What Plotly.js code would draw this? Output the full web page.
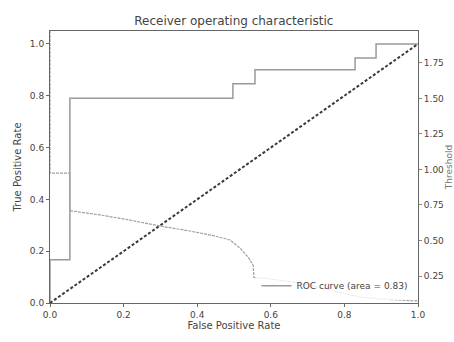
<!DOCTYPE html>
<html><head><meta charset="utf-8">
<script src="https://cdn.plot.ly/plotly-3.0.1.min.js"></script>
<style>body{margin:0;background:#fff}#c{width:454px;height:342px}</style>
</head><body><div id="c"></div>
<script>
// ROC curve (step points)
const rocFpr = [0, 0, 0.054, 0.054, 0.497, 0.497, 0.557, 0.557, 0.829, 0.829, 0.886, 0.886, 1.0];
const rocTpr = [0, 0.167, 0.167, 0.79, 0.79, 0.846, 0.846, 0.90, 0.90, 0.946, 0.946, 1.0, 1.0];
// Thresholds vs FPR (right axis)
const thrFpr = [0, 0, 0.054, 0.054, 0.06, 0.136, 0.217, 0.299, 0.38, 0.448, 0.489, 0.516, 0.538, 0.552, 0.554, 0.598, 0.679, 0.761, 0.842, 0.897, 1.0];
const thrVal = [1.975, 0.975, 0.975, 0.708, 0.708, 0.68, 0.644, 0.602, 0.567, 0.532, 0.504, 0.447, 0.384, 0.327, 0.24, 0.229, 0.201, 0.15, 0.102, 0.088, 0.074];
const diagX = [0, 1];
const diagY = [0, 1];
const legendLabel = 'ROC curve (area = 0.83)';

const font = {family: 'DejaVu Sans', size: 9, color: '#444'};
const traces = [
  {x: rocFpr, y: rocTpr, mode: 'lines', name: legendLabel, line: {color: '#9a9a9a', width: 1.5}, yaxis: 'y'},
  {x: diagX, y: diagY, mode: 'lines', showlegend: false, line: {color: '#3a3a3a', width: 2, dash: '3px,2px'}, yaxis: 'y'},
  {x: thrFpr, y: thrVal, mode: 'lines', showlegend: false, line: {color: '#a0a0a0', width: 1.2, dash: '3px,1px'}, yaxis: 'y2'}
];
const layout = {
  width: 454, height: 342,
  margin: {l: 50, r: 36, t: 31, b: 39},
  paper_bgcolor: '#fff', plot_bgcolor: '#fff',
  font: font,
  title: {text: 'Receiver operating characteristic', font: {family: 'DejaVu Sans', size: 12, color: '#444'}, x: 0.515, xanchor: 'center', y: 0.94, yanchor: 'middle'},
  xaxis: {range: [0, 1], dtick: 0.2, tickformat: '.1f', showgrid: false, zeroline: false,
    showline: true, linecolor: '#666', linewidth: 1, mirror: true, ticks: 'outside', ticklen: 3, tickcolor: '#666',
    title: {text: 'False Positive Rate', font: {size: 10, color: '#444'}, standoff: 3}},
  yaxis: {range: [0, 1.05], dtick: 0.2, tickformat: '.1f', showgrid: false, zeroline: false,
    showline: true, linecolor: '#666', linewidth: 1, mirror: true, ticks: 'outside', ticklen: 3, tickcolor: '#666',
    title: {text: 'True Positive Rate', font: {size: 10, color: '#444'}, standoff: 6}},
  yaxis2: {overlaying: 'y', side: 'right', range: [0.06, 1.975], tick0: 0.25, dtick: 0.25, tickformat: '.2f',
    showgrid: false, zeroline: false, showline: false, ticks: 'outside', ticklen: 3, tickcolor: '#888',
    title: {text: 'Threshold', font: {size: 9, color: '#777'}, standoff: 2}},
  legend: {x: 0.985, xanchor: 'right', y: 0.01, yanchor: 'bottom', bgcolor: 'rgba(255,255,255,0.8)',
    borderwidth: 0, font: {size: 9, color: '#444'}, itemwidth: 30},
  showlegend: true
};
Plotly.newPlot('c', traces, layout, {displayModeBar: false, staticPlot: true});
</script>
</body></html>
